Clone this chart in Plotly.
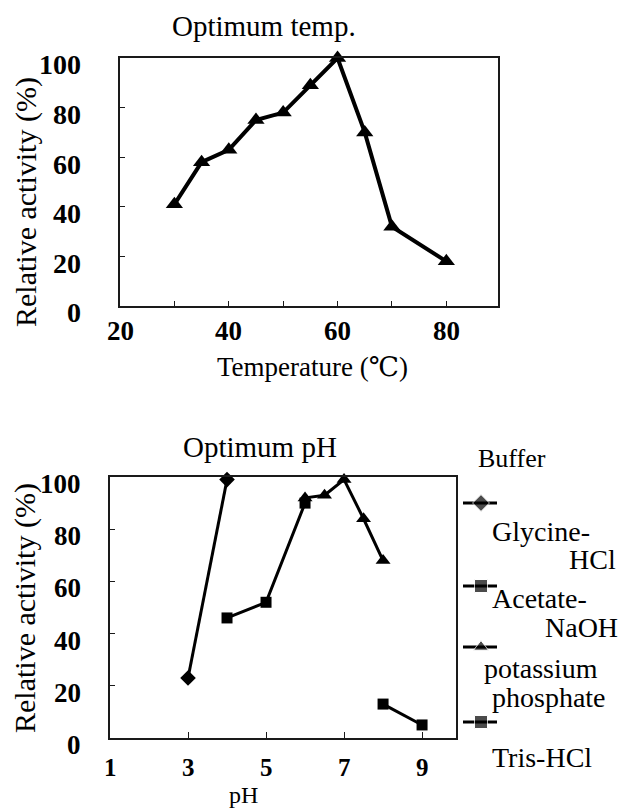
import plotly.graph_objects as go

# ---------------- data ----------------
temp_c = [30, 35, 40, 45, 50, 55, 60, 65, 70, 80]
temp_activity = [41, 58, 63, 75, 78, 89, 100, 70, 32, 18]

glycine_ph = [3, 4]
glycine_act = [23, 99]
acetate_ph = [4, 5, 6]
acetate_act = [46, 52, 90]
phosphate_ph = [6, 6.5, 7, 7.5, 8]
phosphate_act = [92, 93, 99, 84, 68]
tris_ph = [8, 9]
tris_act = [13, 5]

temp_ticks = [20, 40, 60, 80]
ph_ticks = [1, 3, 5, 7, 9]
act_ticks = [0, 20, 40, 60, 80, 100]

# ---------------- layout helpers ----------------
W, H = 629, 811
FONT = "Liberation Serif, DejaVu Serif, serif"


def px(x):
    return x / W


def py(y):
    return 1 - y / H


fig = go.Figure()

# top chart
fig.add_trace(go.Scatter(
    x=temp_c, y=temp_activity, mode="lines+markers",
    line=dict(color="black", width=4),
    marker=dict(symbol="triangle-up", size=15, color="black"),
    xaxis="x", yaxis="y", showlegend=False, cliponaxis=False))

# bottom chart
series = [
    (glycine_ph, glycine_act, "diamond", 12),
    (acetate_ph, acetate_act, "square", 11),
    (phosphate_ph, phosphate_act, "triangle-up", 13),
    (tris_ph, tris_act, "square", 11),
]
for xs, ys, sym, sz in series:
    fig.add_trace(go.Scatter(
        x=xs, y=ys, mode="lines+markers",
        line=dict(color="black", width=3),
        marker=dict(symbol=sym, size=sz, color="black"),
        xaxis="x2", yaxis="y2", showlegend=False, cliponaxis=False))

# custom legend symbols (overlay axis in pixel units)
leg_y = [503, 586, 647, 722]
leg_sym = ["diamond", "square", "triangle-up", "square"]
for (yy, sym) in zip(leg_y, leg_sym):
    fig.add_trace(go.Scatter(
        x=[463, 481, 497], y=[yy, yy, yy], mode="lines+markers",
        line=dict(color="black", width=3),
        marker=dict(symbol=sym, size=[0, 13, 0], color="black"),
        xaxis="x3", yaxis="y3", showlegend=False, cliponaxis=False,
        hoverinfo="skip"))

axis_common = dict(showline=True, mirror=True, linecolor="#1a1a1a", linewidth=1.5,
                   showgrid=False, zeroline=False, ticks="inside",
                   tickcolor="#1a1a1a", tickwidth=1.2, showticklabels=False)

fig.update_layout(
    width=W, height=H, autosize=False,
    margin=dict(l=0, r=0, t=0, b=0),
    paper_bgcolor="white", plot_bgcolor="rgba(0,0,0,0)",
    xaxis=dict(axis_common, domain=[px(120), px(498)], range=[20, 89.5],
               tickvals=temp_ticks, ticklen=0,
               minor=dict(ticks="inside", tick0=30, dtick=10, ticklen=5,
                          tickcolor="#1a1a1a", tickwidth=1.2),
               anchor="y"),
    yaxis=dict(axis_common, domain=[py(306), py(58)], range=[0, 100],
               tickvals=act_ticks, ticklen=5, anchor="x"),
    xaxis2=dict(axis_common, domain=[px(110), px(456)], range=[1, 9.87],
                tickvals=ph_ticks, ticklen=6, anchor="y2"),
    yaxis2=dict(axis_common, domain=[py(738), py(477)], range=[0, 100],
                tickvals=act_ticks, ticklen=5, anchor="x2"),
    xaxis3=dict(domain=[0, 1], range=[0, W], visible=False, fixedrange=True, anchor="y3"),
    yaxis3=dict(domain=[0, 1], range=[H, 0], visible=False, fixedrange=True, anchor="x3"),
)


def txt(s, x, y, size=28, xanchor="center", yanchor="middle", angle=0, weight="normal"):
    fig.add_annotation(text=s, x=px(x), y=py(y), xref="paper", yref="paper",
                       xanchor=xanchor, yanchor=yanchor, showarrow=False,
                       textangle=angle, align="left",
                       font=dict(family=FONT, size=size, color="black", weight=weight))


# tick labels (placed through the axes' own scales)
for v in act_ticks:
    fig.add_annotation(text=str(v), x=px(83), y=v, xref="paper", yref="y",
                       xanchor="right", yanchor="middle", yshift=-7, showarrow=False,
                       font=dict(family=FONT, size=28, color="black", weight="bold"))
    fig.add_annotation(text=str(v), x=px(83), y=v, xref="paper", yref="y2",
                       xanchor="right", yanchor="middle", yshift=-7, showarrow=False,
                       font=dict(family=FONT, size=27, color="black", weight="bold"))
for v in temp_ticks:
    fig.add_annotation(text=str(v), x=v, y=py(331), xref="x", yref="paper",
                       xanchor="center", yanchor="middle", showarrow=False,
                       font=dict(family=FONT, size=27, color="black", weight="bold"))
for v in ph_ticks:
    fig.add_annotation(text=str(v), x=v, y=py(767), xref="x2", yref="paper",
                       xanchor="center", yanchor="middle", showarrow=False,
                       font=dict(family=FONT, size=25, color="black", weight="bold"))

# titles
txt("Optimum temp.", 264, 26, size=29)
txt("Temperature (℃)", 312, 367, size=27)
txt("Relative activity (%)", 26, 202, size=30, angle=-90)
txt("Optimum pH", 260, 447, size=29)
txt("pH", 243, 810, size=24, yanchor="bottom")
txt("Relative activity (%)", 25, 608, size=30, angle=-90)
txt("Buffer", 512, 458, size=26)

# legend texts
txt("Glycine-", 490, 531, xanchor="left", size=28)
txt("HCl", 618, 559, xanchor="right", size=28)
txt("Acetate-", 490, 598, xanchor="left", size=28)
txt("NaOH", 620, 627, xanchor="right", size=28)
txt("potassium", 482, 668, xanchor="left", size=28)
txt("phosphate", 490, 697, xanchor="left", size=28)
txt("Tris-HCl", 490, 757, xanchor="left", size=28)

fig.write_html("out.html")
